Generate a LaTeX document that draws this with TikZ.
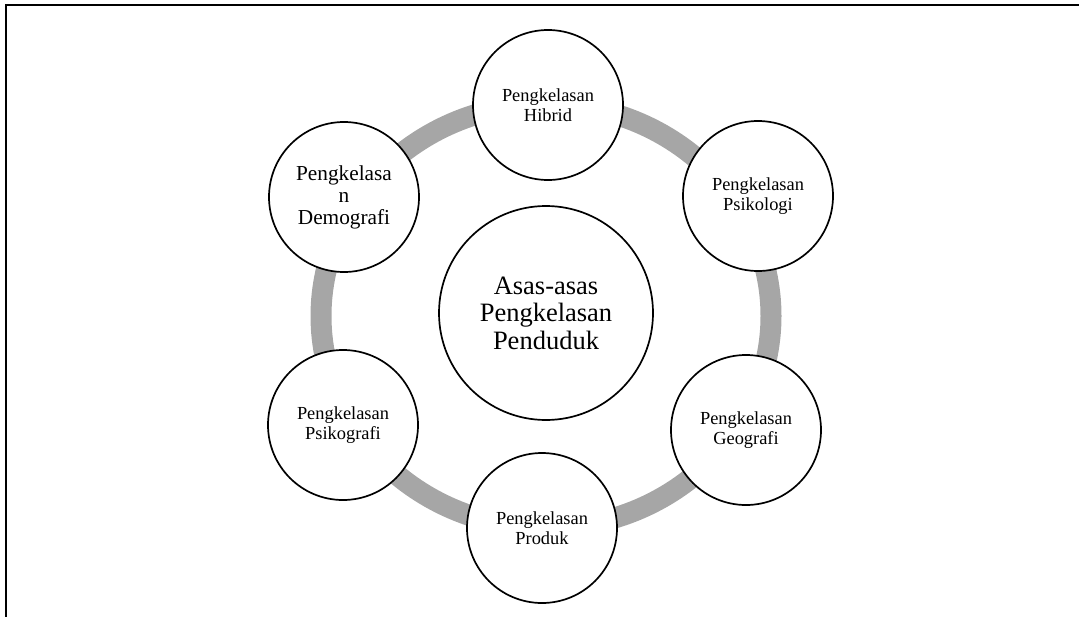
\documentclass[tikz,border=0pt]{standalone}
\usepackage{fontspec}
\setmainfont{Liberation Serif}
\definecolor{ringgray}{HTML}{A6A6A6}
\tikzset{
  outer/.style={circle, draw=black, line width=1.7pt, fill=white, minimum size=150pt, inner sep=0pt, align=center, font=\fontsize{18.4}{20.2}\selectfont},
  centre/.style={circle, draw=black, line width=1.7pt, fill=white, minimum size=214pt, inner sep=0pt, align=center, font=\fontsize{26.5}{27.5}\selectfont},
  ring/.style={draw=ringgray, line width=21pt},
  frame/.style={draw=black, line width=2.6pt}
}
\begin{document}
\begin{tikzpicture}[x=1pt,y=-1pt]
\useasboundingbox (0,0) rectangle (1079,616);
\draw[frame] (6,620) -- (6,5) -- (1083,5);
\draw[ring] (546,316) ellipse [x radius=225, y radius=212];
\node[centre] (c) at (546,313) {Asas-asas\\Pengkelasan\\Penduduk};
\node[outer] (hib) at (548,105) {Pengkelasan\\Hibrid};
\node[outer] (psl) at (758,196) {Pengkelasan\\Psikologi};
\node[outer] (geo) at (746,430) {Pengkelasan\\Geografi};
\node[outer] (pro) at (542,528) {Pengkelasan\\Produk};
\node[outer] (psg) at (343,425) {Pengkelasan\\Psikografi};
\node[outer, font=\fontsize{21.3}{22}\selectfont] (dem) at (344,197) {Pengkelasa\\n\\Demografi};
\end{tikzpicture}
\end{document}
